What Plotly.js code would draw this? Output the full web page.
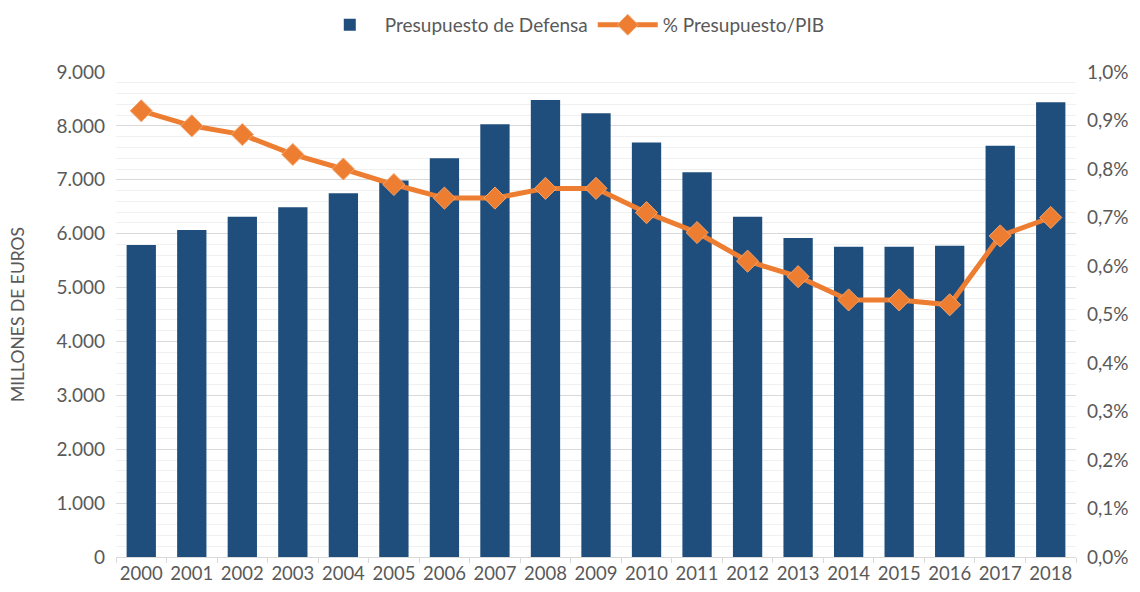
<!DOCTYPE html>
<html>
<head>
<meta charset="utf-8">
<script src="https://cdn.plot.ly/plotly-3.0.1.min.js"></script>
<style>html,body{margin:0;padding:0;background:#fff;}#chart{width:1140px;height:592px;}</style>
</head>
<body>
<div id="chart"></div>
<script>
const years = ['2000','2001','2002','2003','2004','2005','2006','2007','2008','2009','2010','2011','2012','2013','2014','2015','2016','2017','2018'];
const presupuesto = [5790, 6070, 6315, 6490, 6750, 6985, 7400, 8030, 8480, 8235, 7690, 7140, 6315, 5920, 5757, 5757, 5775, 7630, 8437];
const pctPIB = [0.00920, 0.00889, 0.00871, 0.00830, 0.00800, 0.00768, 0.00740, 0.00740, 0.00760, 0.00760, 0.00710, 0.00669, 0.00610, 0.00578, 0.00530, 0.00530, 0.00520, 0.00662, 0.00700];
const seriesNames = ['Presupuesto de Defensa', '% Presupuesto/PIB'];
const yTitle = 'MILLONES DE EUROS';

const txt = '#595959';
const font = 'Lato, "Open Sans", sans-serif';

const traces = [
  {
    type: 'bar', x: years, y: presupuesto, name: seriesNames[0],
    marker: {color: '#1F4E7C'}, yaxis: 'y'
  },
  {
    type: 'scatter', mode: 'lines+markers', x: years, y: pctPIB, name: seriesNames[1],
    line: {color: '#ED7D31', width: 5},
    marker: {symbol: 'diamond', size: 17, color: '#ED7D31', line: {color: '#F4A56E', width: 1}},
    yaxis: 'y2'
  }
];

const layout = {
  width: 1140, height: 592,
  margin: {l: 116, r: 64, t: 72, b: 35},
  paper_bgcolor: '#fff', plot_bgcolor: '#fff',
  separators: ',.',
  font: {family: font, size: 18, color: txt},
  bargap: 0.42,
  showlegend: true,
  legend: {
    orientation: 'h', xref: 'container', yref: 'container',
    x: 0.502, xanchor: 'center', y: 0.99, yanchor: 'top',
    font: {family: font, size: 19, color: txt}, traceorder: 'normal',
    itemwidth: 60
  },
  xaxis: {
    type: 'category', automargin: false, range: [-0.5, 18.5], tickangle: 0,
    tickson: 'boundaries', ticks: 'outside', ticklen: 5, tickcolor: '#d9d9d9',
    showline: true, linecolor: '#d9d9d9', linewidth: 1,
    showgrid: false, zeroline: false,
    tickfont: {family: font, size: 18.5, color: txt}
  },
  yaxis: {
    range: [0, 9000], dtick: 1000, tickformat: ',d', automargin: true,
    showgrid: true, gridcolor: '#d9d9d9', gridwidth: 1,
    minor: {dtick: 200, showgrid: true, gridcolor: '#f0f0f0', gridwidth: 1},
    zeroline: false, showline: false,
    ticklabelstandoff: 10,
    tickfont: {family: font, size: 19, color: txt},
    title: {text: yTitle, font: {family: font, size: 17.5, color: txt}, standoff: 27}
  },
  yaxis2: {
    overlaying: 'y', side: 'right', range: [0, 0.01], dtick: 0.001, tickformat: '.1%', automargin: false,
    showgrid: false, zeroline: false, showline: false,
    ticklabelstandoff: 10,
    tickfont: {family: font, size: 19, color: txt}
  }
};

Plotly.newPlot('chart', traces, layout, {displayModeBar: false, responsive: false});
</script>
</body>
</html>
